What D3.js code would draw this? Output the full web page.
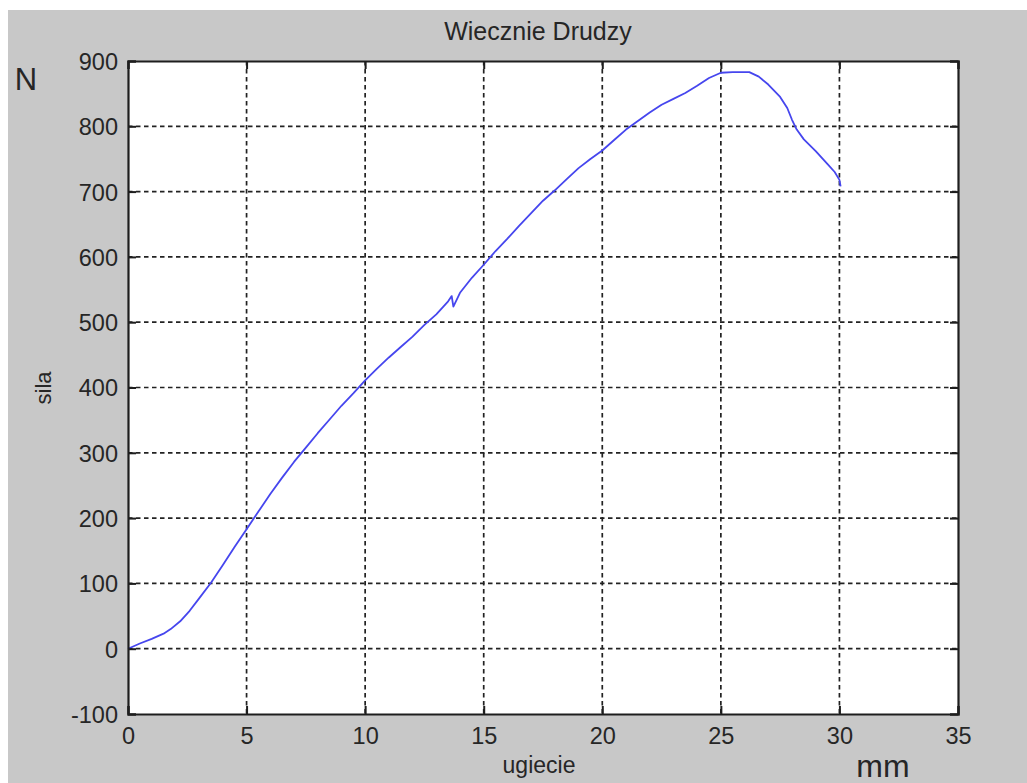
<!DOCTYPE html>
<html>
<head>
<meta charset="utf-8">
<script src="https://cdn.jsdelivr.net/npm/d3@7"></script>
<style>
  html, body { margin: 0; padding: 0; background: #ffffff; }
  svg { display: block; }
  text { font-family: "Liberation Sans", Arial, sans-serif; fill: #262626; }
</style>
</head>
<body>
<svg id="chart" width="1027" height="783"></svg>
<script>
// Force–deflection measurement (ugiecie in mm, sila in N)
const deflection = [0, 0.5, 1.0, 1.5, 1.8, 2.2, 2.6, 3.0, 3.5, 4.0, 4.5, 5.0, 5.5, 6.0, 6.5, 7.0,
  7.5, 8.0, 8.5, 9.0, 9.5, 10.0, 10.5, 11.0, 11.5, 12.0, 12.5, 13.0, 13.5, 13.65, 13.72, 14.0,
  14.5, 15.0, 15.5, 16.0, 16.5, 17.0, 17.5, 18.0, 18.5, 19.0, 19.5, 20.0, 20.5, 21.0, 21.5,
  22.0, 22.5, 23.0, 23.5, 24.0, 24.5, 25.0, 25.5, 26.2, 26.6, 27.0, 27.5, 27.8, 28.0, 28.2,
  28.5, 29.0, 29.5, 29.8, 30.0, 30.05];
const force = [0, 8, 15, 23, 30, 42, 58, 77, 101, 128, 156, 183, 210, 237, 262, 286,
  308, 330, 351, 372, 391, 411, 429, 446, 462, 478, 496, 512, 532, 540, 524, 545,
  568, 588, 609, 628, 648, 667, 686, 702, 719, 736, 750, 763, 779, 795, 808,
  821, 833, 842, 851, 862, 874, 882, 883, 883, 876, 864, 845, 828, 810, 795,
  780, 762, 742, 730, 718, 708];

const xTicks = [0, 5, 10, 15, 20, 25, 30, 35];
const yTicks = [-100, 0, 100, 200, 300, 400, 500, 600, 700, 800, 900];

const chartTitle = "Wiecznie Drudzy";
const xLabel = "ugiecie";
const yLabel = "sila";
const xUnit = "mm";
const yUnit = "N";

const W = 1027, H = 783;
const plot = { left: 128, right: 958, top: 61, bottom: 714 };

const svg = d3.select("#chart");

// figure background
svg.append("rect").attr("x", 8).attr("y", 10).attr("width", W - 8).attr("height", H - 10)
  .attr("fill", "#c8c8c8");

const x = d3.scaleLinear().domain([0, 35]).range([plot.left, plot.right]);
const y = d3.scaleLinear().domain([-100, 900]).range([plot.bottom, plot.top]);

// axes area
svg.append("rect")
  .attr("x", plot.left).attr("y", plot.top)
  .attr("width", plot.right - plot.left).attr("height", plot.bottom - plot.top)
  .attr("fill", "#ffffff");

// grid
const grid = svg.append("g").attr("stroke", "#222").attr("stroke-width", 1.7)
  .attr("stroke-dasharray", "4.5,3.5");
grid.selectAll("line.v").data(xTicks.filter(d => d > 0 && d < 35)).join("line")
  .attr("class", "v")
  .attr("x1", d => x(d)).attr("x2", d => x(d))
  .attr("y1", plot.top).attr("y2", plot.bottom);
grid.selectAll("line.h").data(yTicks.filter(d => d > -100 && d < 900)).join("line")
  .attr("class", "h")
  .attr("x1", plot.left).attr("x2", plot.right)
  .attr("y1", d => y(d)).attr("y2", d => y(d));

// data line
const line = d3.line().x((d, i) => x(deflection[i])).y(d => y(d));
svg.append("path")
  .datum(force)
  .attr("fill", "none")
  .attr("stroke", "#4646ee")
  .attr("stroke-width", 1.8)
  .attr("stroke-linejoin", "round")
  .attr("d", line);

// plain integer labels with an ASCII hyphen for negatives
const fmt = d => String(d);

// axes with inward ticks on all four sides
const tickLen = 8;
const fontTicks = "23.5px";
const bottomAxis = svg.append("g").attr("transform", `translate(0,${plot.bottom})`)
  .call(d3.axisBottom(x).tickValues(xTicks).tickSize(-tickLen).tickPadding(13).tickFormat(fmt));
const topAxis = svg.append("g").attr("transform", `translate(0,${plot.top})`)
  .call(d3.axisTop(x).tickValues(xTicks).tickSize(-tickLen).tickFormat(""));
const leftAxis = svg.append("g").attr("transform", `translate(${plot.left},0)`)
  .call(d3.axisLeft(y).tickValues(yTicks).tickSize(-tickLen).tickPadding(10).tickFormat(fmt));
const rightAxis = svg.append("g").attr("transform", `translate(${plot.right},0)`)
  .call(d3.axisRight(y).tickValues(yTicks).tickSize(-tickLen).tickFormat(""));

[bottomAxis, topAxis, leftAxis, rightAxis].forEach(g => {
  g.select(".domain").attr("stroke", "#1e1e1e").attr("stroke-width", 2.2);
  g.selectAll(".tick line").attr("stroke", "#1e1e1e").attr("stroke-width", 2);
  g.selectAll("text").attr("font-size", fontTicks)
    .attr("font-family", "'Liberation Sans', Arial, sans-serif").attr("fill", "#2a2a2a");
});
bottomAxis.selectAll(".tick text").attr("dy", "0.71em");
leftAxis.selectAll(".tick text").attr("dy", "0.36em");

// title and labels
svg.append("text").attr("x", (plot.left + plot.right) / 2 - 5).attr("y", 40)
  .attr("text-anchor", "middle").attr("font-size", "25px").text(chartTitle);
svg.append("text").attr("x", (plot.left + plot.right) / 2 - 4).attr("y", 773)
  .attr("text-anchor", "middle").attr("font-size", "23px").text(xLabel);
svg.append("text")
  .attr("transform", `translate(51,388) rotate(-90)`)
  .attr("text-anchor", "middle").attr("font-size", "22px").text(yLabel);
svg.append("text").attr("x", 26).attr("y", 90)
  .attr("text-anchor", "middle").attr("font-size", "31px").attr("fill", "#111").text(yUnit);
svg.append("text").attr("x", 883).attr("y", 777)
  .attr("text-anchor", "middle").attr("font-size", "32px").attr("fill", "#111").text(xUnit);
</script>
</body>
</html>
